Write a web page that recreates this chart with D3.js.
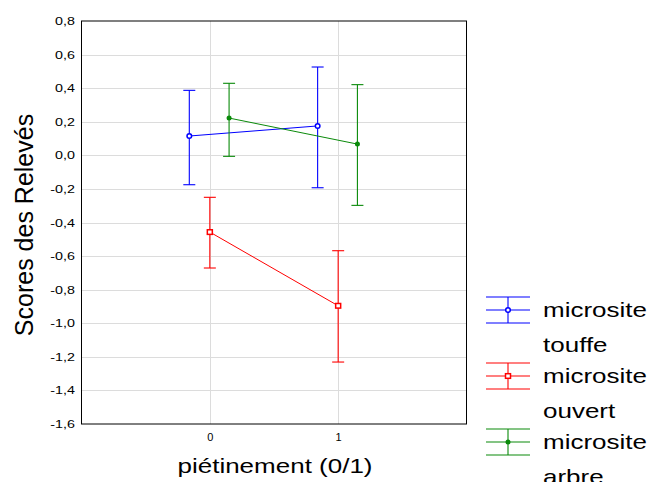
<!DOCTYPE html>
<html>
<head>
<meta charset="utf-8">
<script src="https://cdn.jsdelivr.net/npm/d3@7"></script>
<style>
  html, body { margin: 0; padding: 0; background: #fff; }
  svg { display: block; }
  text { font-family: "Liberation Sans", Arial, sans-serif; fill: #000; }
</style>
</head>
<body>
<svg id="chart" width="649" height="482"></svg>
<script>
// Trampling level (0 = none, 1 = trampled)
const categories = [0, 1];
const xTicks = [0, 1];
const yTicks = [0.8, 0.6, 0.4, 0.2, 0.0, -0.2, -0.4, -0.6, -0.8, -1.0, -1.2, -1.4, -1.6];

// Mean relevé scores with their interval bounds, per microsite
const touffeMean = [0.115, 0.175];
const touffeLow  = [-0.175, -0.193];
const touffeHigh = [0.387, 0.526];

const ouvertMean = [-0.457, -0.896];
const ouvertLow  = [-0.671, -1.231];
const ouvertHigh = [-0.250, -0.568];

const arbreMean = [0.222, 0.067];
const arbreLow  = [-0.006, -0.298];
const arbreHigh = [0.429, 0.421];

const seriesLabels = [["microsite", "touffe"], ["microsite", "ouvert"], ["microsite", "arbre"]];

const series = [
  { label: seriesLabels[0], mean: touffeMean, low: touffeLow, high: touffeHigh, color: "#0000ff", marker: "openCircle", dodge: -0.16 },
  { label: seriesLabels[1], mean: ouvertMean, low: ouvertLow, high: ouvertHigh, color: "#ff0000", marker: "openSquare", dodge: 0 },
  { label: seriesLabels[2], mean: arbreMean,  low: arbreLow,  high: arbreHigh,  color: "#0a8a0a", marker: "dot",        dodge: 0.15 }
];

const svg = d3.select("#chart");
const plot = { left: 81.5, right: 466.5, top: 21, bottom: 424 };
const textStretch = 1.3;

const x = d3.scaleLinear().domain([-1, 2]).range([plot.left, plot.right]);
const y = d3.scaleLinear().domain([-1.6, 0.8]).range([plot.bottom, plot.top]);
const fmt = v => d3.format(".1f")(v).replace("−", "-").replace(".", ",");

// grid
const grid = svg.append("g");
grid.selectAll("line.h").data(yTicks.filter(v => v > -1.6 && v < 0.8)).join("line")
  .attr("x1", plot.left).attr("x2", plot.right)
  .attr("y1", d => Math.round(y(d)) + 0.5).attr("y2", d => Math.round(y(d)) + 0.5)
  .attr("stroke", "#dcdcdc").attr("stroke-width", 1);
grid.selectAll("line.v").data(xTicks).join("line")
  .attr("x1", d => Math.round(x(d)) + 0.5).attr("x2", d => Math.round(x(d)) + 0.5)
  .attr("y1", plot.top).attr("y2", plot.bottom)
  .attr("stroke", "#dcdcdc").attr("stroke-width", 1);

// axes
const yAxis = d3.axisLeft(y).tickValues(yTicks).tickFormat(fmt).tickSize(0).tickPadding(0);
const gy = svg.append("g").attr("transform", `translate(${plot.left - 6.5},0)`).call(yAxis);
gy.select(".domain").remove();
gy.selectAll("text").style("font-size", "11px").attr("font-family", null)
  .attr("x", 0).attr("transform", `scale(${textStretch},1)`);

const xAxis = d3.axisBottom(x).tickValues(xTicks).tickFormat(d3.format("d")).tickSize(0).tickPadding(9);
const gx = svg.append("g").attr("transform", `translate(0,${plot.bottom})`).call(xAxis);
gx.select(".domain").remove();
gx.selectAll("text").style("font-size", "11px").attr("font-family", null);

// frame
svg.append("rect")
  .attr("x", plot.left).attr("y", plot.top)
  .attr("width", plot.right - plot.left).attr("height", plot.bottom - plot.top)
  .attr("fill", "none").attr("stroke", "#000").attr("stroke-width", 1);

// series
const capHalf = 6;
series.forEach(s => {
  const g = svg.append("g");
  const pts = categories.map((c, i) => ({ cx: x(c + s.dodge), m: s.mean[i], lo: s.low[i], hi: s.high[i] }));
  g.append("path")
    .attr("d", d3.line().x(d => d.cx).y(d => y(d.m))(pts))
    .attr("fill", "none").attr("stroke", s.color).attr("stroke-width", 1);
  pts.forEach(p => {
    g.append("line").attr("x1", p.cx).attr("x2", p.cx).attr("y1", y(p.lo)).attr("y2", y(p.hi))
      .attr("stroke", s.color).attr("stroke-width", 1.1);
    [p.lo, p.hi].forEach(v => g.append("line")
      .attr("x1", p.cx - capHalf).attr("x2", p.cx + capHalf).attr("y1", y(v)).attr("y2", y(v))
      .attr("stroke", s.color).attr("stroke-width", 1.1));
  });
  drawMarkers(g, pts.map(p => [p.cx, y(p.m)]), s);
});

function drawMarkers(g, coords, s) {
  coords.forEach(([cx, cy]) => {
    if (s.marker === "openCircle") {
      g.append("circle").attr("cx", cx).attr("cy", cy).attr("r", 2.3)
        .attr("fill", "#fff").attr("stroke", s.color).attr("stroke-width", 1.5);
    } else if (s.marker === "openSquare") {
      g.append("rect").attr("x", cx - 2.5).attr("y", cy - 2.3).attr("width", 5).attr("height", 4.6)
        .attr("fill", "#fff").attr("stroke", s.color).attr("stroke-width", 1.5);
    } else {
      g.append("circle").attr("cx", cx).attr("cy", cy).attr("r", 2.5).attr("fill", s.color);
    }
  });
}

// axis titles
svg.append("text")
  .attr("transform", "translate(33,225) rotate(-90)")
  .attr("text-anchor", "middle").style("font-size", "25px")
  .text("Scores des Relevés");
svg.append("text")
  .attr("transform", `translate(275,473) scale(${textStretch},1)`)
  .attr("text-anchor", "middle").style("font-size", "20px")
  .text("piétinement (0/1)");

// legend
const legend = svg.append("g");
series.forEach((s, i) => {
  const cy = 310 + i * 66;
  const g = legend.append("g").attr("transform", `translate(0,${cy})`);
  [-13, 0, 13].forEach(dy => g.append("line")
    .attr("x1", 486).attr("x2", 530).attr("y1", dy).attr("y2", dy)
    .attr("stroke", s.color).attr("stroke-width", 1.1));
  g.append("line").attr("x1", 508).attr("x2", 508).attr("y1", -13).attr("y2", 13)
    .attr("stroke", s.color).attr("stroke-width", 1.1);
  drawMarkers(g, [[508, 0]], s);
  s.label.forEach((t, k) => g.append("text")
    .attr("transform", `translate(543,${7 + k * 35}) scale(${textStretch},1)`)
    .style("font-size", "20px").text(t));
});
</script>
</body>
</html>
